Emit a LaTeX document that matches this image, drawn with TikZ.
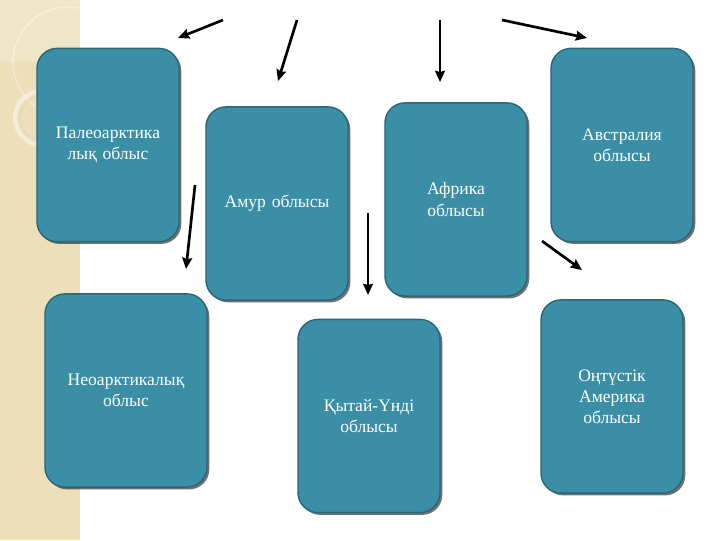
\documentclass[tikz,border=0pt]{standalone}
\usepackage{fontspec}
\setmainfont{Liberation Serif}
\usetikzlibrary{arrows.meta,shadows}
\definecolor{boxfill}{RGB}{58,142,165}
\definecolor{boxline}{RGB}{42,104,120}
\definecolor{stripe}{RGB}{236,223,186}
\begin{document}
\begin{tikzpicture}[x=0.025cm,y=-0.025cm,thick,
    main node/.style={rectangle,rounded corners=0.5cm,draw=boxline,fill=boxfill,line width=1pt,
      text=white,font=\fontsize{12.5}{15}\selectfont,align=center,text width=3.3cm,
      minimum width=3.55cm,minimum height=4.83cm,
      drop shadow={shadow xshift=1.6pt,shadow yshift=-1.6pt,opacity=0.7,fill=black!80}},
    arr/.style={line width=1.9pt,-{Stealth[length=8pt,width=7pt,inset=1pt]}}]
    \useasboundingbox (0,0) rectangle (720,540);
    % background stripe
    \fill[stripe] (0,0) rectangle (80,540);
    \begin{scope}
        \clip (0,0) rectangle (80,540);
        \fill[white,opacity=0.2] (0,0) rectangle (80,62);
        \draw[white,opacity=0.35,line width=1.2pt] (68,62) circle (55);
        \draw[white,opacity=0.45,line width=3pt] (42,118) circle (27);
        \draw[black!25,opacity=0.3,line width=0.6pt] (42,118) circle (22);
    \end{scope}

    \node[main node] at (108,145) (1) {Палеоарктика\\лық облыс};
    \node[main node] at (277,203.5) (2) {Амур облысы};
    \node[main node] at (456,199.5) (3) {Африка\\облысы};
    \node[main node] at (622,145) (4) {Австралия\\облысы};
    \node[main node,minimum width=4.05cm] at (126,390.5) (5) {Неоарктикалық\\облыс};
    \node[main node] at (369,416) (6) {Қытай-Үнді\\облысы};
    \node[main node] at (612,396.5) (7) {Оңтүстік\\Америка\\облысы};

    \coordinate (s1) at (223,20);  \coordinate (e1) at (178,38);
    \coordinate (s2) at (297,20);  \coordinate (e2) at (278,81);
    \coordinate (s3) at (440,20);  \coordinate (e3) at (440,82);
    \coordinate (s4) at (502,20);  \coordinate (e4) at (587,38);
    \coordinate (s5) at (195,185); \coordinate (e5) at (186,269);
    \coordinate (s6) at (368,213); \coordinate (e6) at (368,295);
    \coordinate (s7) at (542,241); \coordinate (e7) at (582,270);

    \path[arr] (s1) edge (e1);
    \path[arr] (s2) edge (e2);
    \path[arr] (s3) edge (e3);
    \path[arr] (s4) edge (e4);
    \path[arr] (s5) edge (e5);
    \path[arr] (s6) edge (e6);
    \path[arr] (s7) edge (e7);

\end{tikzpicture}
\end{document}
